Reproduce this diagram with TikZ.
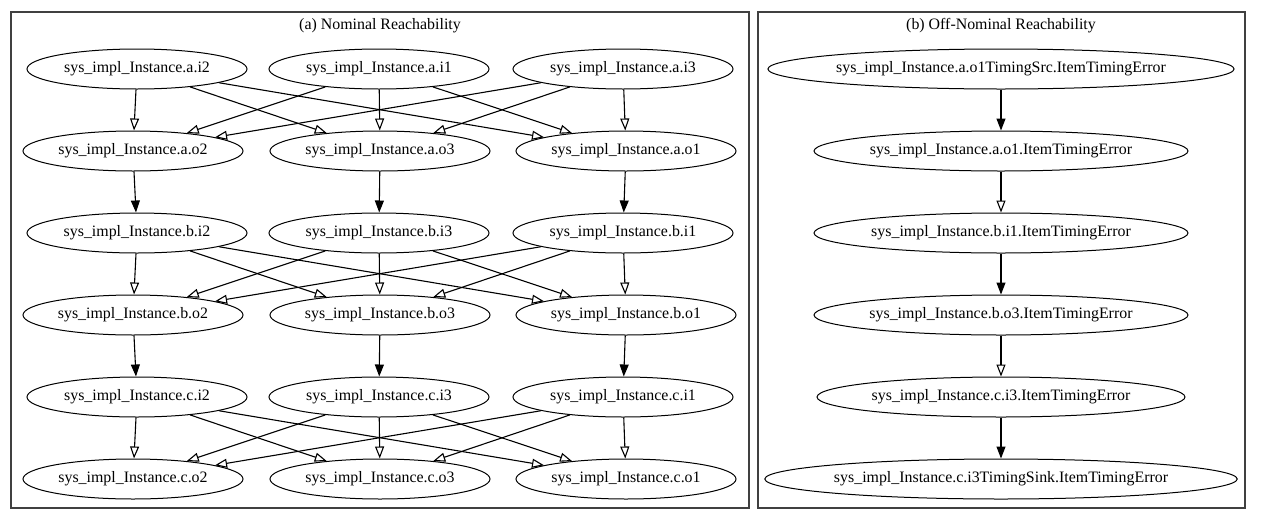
\documentclass[tikz,border=0pt]{standalone}
\usepackage{fontspec}
\setmainfont{Liberation Serif}
\usetikzlibrary{shapes.geometric,arrows.meta}

\begin{document}
\begin{tikzpicture}[x=1pt, y=-1pt,
	port/.style={draw, ellipse, line width=1pt, inner sep=0pt, minimum width=220pt, minimum height=40pt, font=\fontsize{15.9}{18}\selectfont},
	wire/.style={-{Triangle[open, length=12pt, width=9pt]}, line width=1.1pt},
	link/.style={-{Triangle[length=12pt, width=9pt]}, line width=1.1pt},
	frame/.style={draw=black!75, line width=1.2pt},
	caption/.style={font=\fontsize{15.9}{18}\selectfont}]
			\useasboundingbox (0,0) rectangle (1280,520);
			\draw[frame] (11,12) rectangle (749,508);
			\draw[frame] (758,12) rectangle (1245,508);
			\node[caption] (ta) at (380,26) {(a) Nominal Reachability};
			\node[caption] (tb) at (1001,26) {(b) Off-Nominal Reachability};
			% nominal: instance a
			\node[port] (ai2) at (137,69) {sys\_impl\_Instance.a.i2};
			\node[port] (ai1) at (379,69) {sys\_impl\_Instance.a.i1};
			\node[port] (ai3) at (623,69) {sys\_impl\_Instance.a.i3};
			\node[port] (ao2) at (133,151) {sys\_impl\_Instance.a.o2};
			\node[port] (ao3) at (380,151) {sys\_impl\_Instance.a.o3};
			\node[port] (ao1) at (626,151) {sys\_impl\_Instance.a.o1};
			% instance b
			\node[port] (bi2) at (137,233) {sys\_impl\_Instance.b.i2};
			\node[port] (bi3) at (379,233) {sys\_impl\_Instance.b.i3};
			\node[port] (bi1) at (623,233) {sys\_impl\_Instance.b.i1};
			\node[port] (bo2) at (133,315) {sys\_impl\_Instance.b.o2};
			\node[port] (bo3) at (380,315) {sys\_impl\_Instance.b.o3};
			\node[port] (bo1) at (626,315) {sys\_impl\_Instance.b.o1};
			% instance c
			\node[port] (ci2) at (137,397) {sys\_impl\_Instance.c.i2};
			\node[port] (ci3) at (379,397) {sys\_impl\_Instance.c.i3};
			\node[port] (ci1) at (623,397) {sys\_impl\_Instance.c.i1};
			\node[port] (co2) at (133,479) {sys\_impl\_Instance.c.o2};
			\node[port] (co3) at (380,479) {sys\_impl\_Instance.c.o3};
			\node[port] (co1) at (626,479) {sys\_impl\_Instance.c.o1};
			\foreach \s in {a,b,c}
				\foreach \i in {1,2,3}
					\foreach \o in {1,2,3}
						\draw[wire] (\s i\i) -- (\s o\o);
			\draw[link] (ao2) -- (bi2);
			\draw[link] (ao3) -- (bi3);
			\draw[link] (ao1) -- (bi1);
			\draw[link] (bo2) -- (ci2);
			\draw[link] (bo3) -- (ci3);
			\draw[link] (bo1) -- (ci1);
			% off-nominal chain
			\node[port, minimum width=463pt] (src) at (1001,69) {sys\_impl\_Instance.a.o1TimingSrc.ItemTimingError};
			\node[port, minimum width=374pt] (ao1e) at (1001,151) {sys\_impl\_Instance.a.o1.ItemTimingError};
			\node[port, minimum width=374pt] (bi1e) at (1001,233) {sys\_impl\_Instance.b.i1.ItemTimingError};
			\node[port, minimum width=374pt] (bo3e) at (1001,315) {sys\_impl\_Instance.b.o3.ItemTimingError};
			\node[port, minimum width=368pt] (ci3e) at (1001,397) {sys\_impl\_Instance.c.i3.ItemTimingError};
			\node[port, minimum width=470pt] (sink) at (1001,479) {sys\_impl\_Instance.c.i3TimingSink.ItemTimingError};
			\draw[link] (src) -- (ao1e);
			\draw[wire] (ao1e) -- (bi1e);
			\draw[link] (bi1e) -- (bo3e);
			\draw[wire] (bo3e) -- (ci3e);
			\draw[link] (ci3e) -- (sink);
		\end{tikzpicture}
\end{document}
